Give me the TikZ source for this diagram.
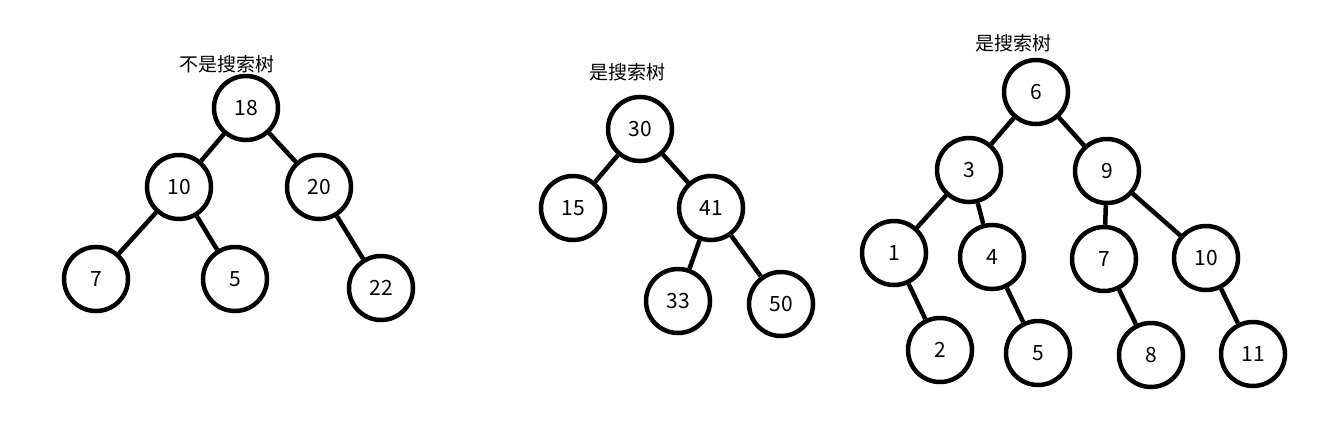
\documentclass[tikz,border=0pt]{standalone}
\usepackage{fontspec}
\setmainfont{Noto Sans CJK SC}
\usetikzlibrary{positioning}
\begin{document}
\begin{tikzpicture}[
  x=1pt, y=-1pt, font=\fontsize{21}{23}\selectfont,
  key/.style={draw, circle, line width=4.5pt, minimum size=64pt, inner sep=0pt},
  title/.style={font=\fontsize{19}{21}\selectfont, inner sep=0pt},
  link/.style={line width=4.5pt}]
  \useasboundingbox (0,0) rectangle (1317,421);
  % first tree
  \node[title] (lbla) at (227,64) {不是搜索树};
  \node[key] (a18) at (246,108) {18};
  \node[key] (a10) at (179,187) {10};
  \node[key] (a20) at (319,187) {20};
  \node[key] (a7)  at (96,279)  {7};
  \node[key] (a5)  at (235,279) {5};
  \node[key] (a22) at (381,288) {22};
  \draw[link] (a18) -- (a10);
  \draw[link] (a18) -- (a20);
  \draw[link] (a10) -- (a7);
  \draw[link] (a10) -- (a5);
  \draw[link] (a20) -- (a22);
  % second tree
  \node[title] (lblb) at (627,72) {是搜索树};
  \node[key] (b30) at (640,129) {30};
  \node[key] (b15) at (573,208) {15};
  \node[key] (b41) at (711,208) {41};
  \node[key] (b33) at (678,301) {33};
  \node[key] (b50) at (781,304) {50};
  \draw[link] (b30) -- (b15);
  \draw[link] (b30) -- (b41);
  \draw[link] (b41) -- (b33);
  \draw[link] (b41) -- (b50);
  % third tree
  \node[title] (lblc) at (1013,43) {是搜索树};
  \node[key] (c6)  at (1036,92)  {6};
  \node[key] (c3)  at (969,170)  {3};
  \node[key] (c9)  at (1107,171) {9};
  \node[key] (c1)  at (894,253)  {1};
  \node[key] (c4)  at (992,257)  {4};
  \node[key] (c7)  at (1104,259) {7};
  \node[key] (c10) at (1206,258) {10};
  \node[key] (c2)  at (940,350)  {2};
  \node[key] (c5)  at (1038,353) {5};
  \node[key] (c8)  at (1151,355) {8};
  \node[key] (c11) at (1253,354) {11};
  \draw[link] (c6) -- (c3);
  \draw[link] (c6) -- (c9);
  \draw[link] (c3) -- (c1);
  \draw[link] (c3) -- (c4);
  \draw[link] (c9) -- (c7);
  \draw[link] (c9) -- (c10);
  \draw[link] (c1) -- (c2);
  \draw[link] (c4) -- (c5);
  \draw[link] (c7) -- (c8);
  \draw[link] (c10) -- (c11);
\end{tikzpicture}
\end{document}
